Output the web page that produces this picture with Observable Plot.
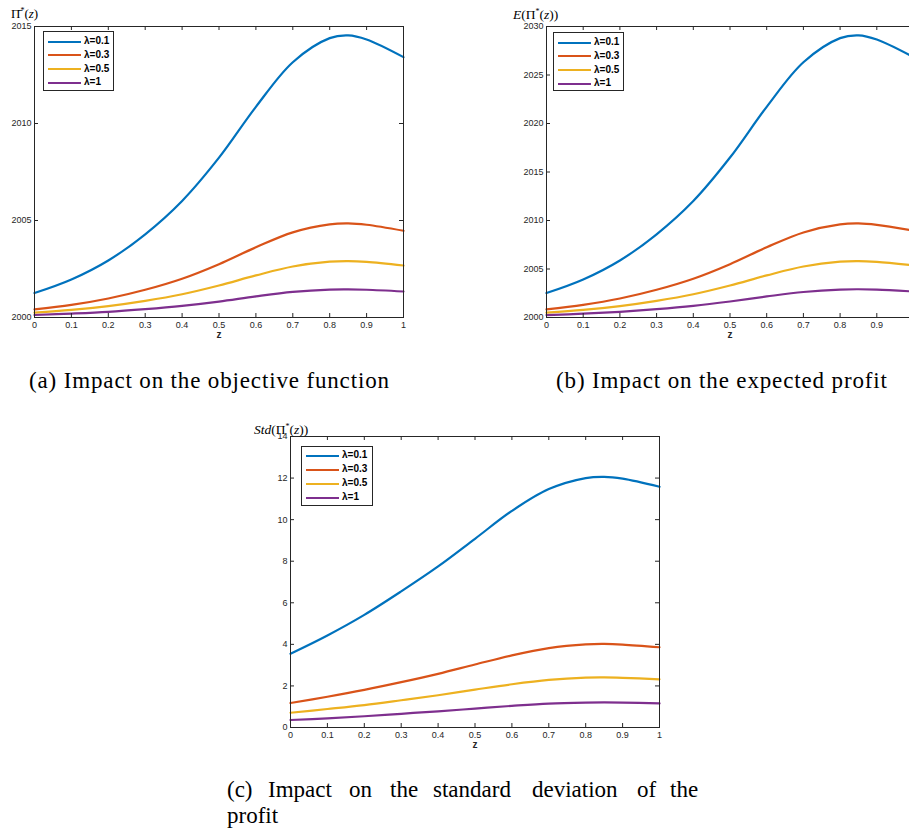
<!DOCTYPE html>
<html>
<head>
<meta charset="utf-8">
<script src="https://cdn.jsdelivr.net/npm/d3@7"></script>
<script src="https://cdn.jsdelivr.net/npm/@observablehq/plot@0.6"></script>
<style>
html, body { margin: 0; padding: 0; background: #fff; }
#page { position: relative; width: 909px; height: 831px; overflow: hidden; background: #fff; }
.panel { position: absolute; }
.panel svg { max-width: none !important; display: block; }
.legend { position: absolute; border: 1px solid #262626; background: #fff; box-sizing: border-box;
  font: bold 10px "Liberation Sans", Arial, sans-serif; color: #000; }
.legend .ln { position: absolute; height: 2px; }
.legend .tx { position: absolute; line-height: 12px; white-space: nowrap; }
#overlay { position: absolute; left: 0; top: 0; pointer-events: none; }
</style>
</head>
<body>
<div id="page"></div>
<script>
// ---- data ----
const zValues = [0, 0.1, 0.2, 0.3, 0.4, 0.5, 0.6, 0.7, 0.8, 0.85, 0.9, 1];
const xTickValues = [0, 0.1, 0.2, 0.3, 0.4, 0.5, 0.6, 0.7, 0.8, 0.9, 1];
const lambdaLabels = ["λ=0.1", "λ=0.3", "λ=0.5", "λ=1"];
const lineColors = ["#0072BD", "#D95319", "#EDB120", "#7E2F8E"];

// (a) objective function
const objTicks = [2000, 2005, 2010, 2015];
const objL01 = [2001.26, 2001.96, 2002.94, 2004.29, 2006.01, 2008.24, 2010.86, 2013.16, 2014.40, 2014.54, 2014.33, 2013.42];
const objL03 = [2000.42, 2000.65, 2000.98, 2001.43, 2002.00, 2002.75, 2003.62, 2004.39, 2004.80, 2004.85, 2004.78, 2004.47];
const objL05 = [2000.25, 2000.39, 2000.59, 2000.86, 2001.20, 2001.65, 2002.17, 2002.63, 2002.88, 2002.91, 2002.87, 2002.68];
const objL1  = [2000.13, 2000.20, 2000.29, 2000.43, 2000.60, 2000.82, 2001.09, 2001.32, 2001.44, 2001.45, 2001.43, 2001.34];

// (b) expected profit
const expTicks = [2000, 2005, 2010, 2015, 2020, 2025, 2030];
const expL01 = [2002.52, 2003.92, 2005.88, 2008.58, 2012.01, 2016.49, 2021.72, 2026.31, 2028.80, 2029.09, 2028.66, 2026.84];
const expL03 = [2000.84, 2001.31, 2001.96, 2002.86, 2004.00, 2005.50, 2007.24, 2008.77, 2009.60, 2009.70, 2009.55, 2008.95];
const expL05 = [2000.50, 2000.78, 2001.18, 2001.72, 2002.40, 2003.30, 2004.34, 2005.26, 2005.76, 2005.82, 2005.73, 2005.37];
const expL1  = [2000.25, 2000.39, 2000.59, 2000.86, 2001.20, 2001.65, 2002.17, 2002.63, 2002.88, 2002.91, 2002.87, 2002.68];

// (c) standard deviation
const stdTicks = [0, 2, 4, 6, 8, 10, 12, 14];
const stdL01 = [3.55, 4.43, 5.42, 6.55, 7.75, 9.08, 10.42, 11.47, 12.00, 12.06, 11.97, 11.58];
const stdL03 = [1.18, 1.48, 1.81, 2.18, 2.58, 3.03, 3.47, 3.82, 4.00, 4.02, 3.99, 3.86];
const stdL05 = [0.71, 0.89, 1.08, 1.31, 1.55, 1.82, 2.08, 2.29, 2.40, 2.41, 2.39, 2.32];
const stdL1  = [0.36, 0.44, 0.54, 0.66, 0.78, 0.91, 1.04, 1.15, 1.20, 1.21, 1.20, 1.16];

// ---- drawing ----
const page = document.getElementById("page");
const axisColor = "#262626";

function makePanel({left, top, width, height, mL, mR, mT, mB, yDomain, yTicks, series}) {
  const data = series.flatMap((vals, i) => vals.map((v, j) => ({z: zValues[j], v, s: lambdaLabels[i]})));
  const innerH = height - mT - mB;
  const innerW = width - mL - mR;
  const tickLen = 4;
  const svg = Plot.plot({
    width, height,
    marginLeft: mL, marginRight: mR, marginTop: mT, marginBottom: mB,
    style: {fontFamily: "'Liberation Sans', Arial, sans-serif", fontSize: "9px", color: axisColor, background: "transparent", overflow: "visible", maxWidth: "none"},
    x: {domain: [0, 1]},
    y: {domain: yDomain},
    color: {domain: lambdaLabels, range: lineColors},
    marks: [
      Plot.line(data, {x: "z", y: "v", stroke: "s", strokeWidth: 2.2, curve: "catmull-rom"}),
      Plot.frame({stroke: axisColor, strokeWidth: 1}),
      Plot.tickX(xTickValues, {x: d => d, insetTop: innerH - tickLen, stroke: axisColor}),
      Plot.tickX(xTickValues, {x: d => d, insetBottom: innerH - tickLen, stroke: axisColor}),
      Plot.tickY(yTicks, {y: d => d, insetRight: innerW - tickLen, stroke: axisColor}),
      Plot.tickY(yTicks, {y: d => d, insetLeft: innerW - tickLen, stroke: axisColor}),
      Plot.axisX(xTickValues, {tickSize: 0, tickPadding: 4, tickFormat: d => String(d), label: null}),
      Plot.axisY(yTicks, {tickSize: 0, tickPadding: 3, tickFormat: d => String(d), label: null}),
      Plot.text(["z"], {frameAnchor: "bottom", dy: 20, text: d => d, fontWeight: "bold", fontSize: 10, fill: axisColor})
    ]
  });
  const wrap = document.createElement("div");
  wrap.className = "panel";
  wrap.style.left = left + "px";
  wrap.style.top = top + "px";
  wrap.style.width = width + "px";
  wrap.style.height = height + "px";
  wrap.appendChild(svg);
  page.appendChild(wrap);
}

function makeLegend(left, top, w, h, rows) {
  const box = document.createElement("div");
  box.className = "legend";
  box.style.left = left + "px";
  box.style.top = top + "px";
  box.style.width = w + "px";
  box.style.height = h + "px";
  lambdaLabels.forEach((lab, i) => {
    const ln = document.createElement("div");
    ln.className = "ln";
    ln.style.left = "3.5px";
    ln.style.width = "33px";
    ln.style.top = (rows[i] - 1) + "px";
    ln.style.background = lineColors[i];
    box.appendChild(ln);
    const tx = document.createElement("div");
    tx.className = "tx";
    tx.style.left = "40px";
    tx.style.top = (rows[i] - 6.5) + "px";
    tx.textContent = lab;
    box.appendChild(tx);
  });
  page.appendChild(box);
}

makePanel({left: 0, top: 0, width: 420, height: 350, mL: 34, mR: 17, mT: 26, mB: 33,
  yDomain: [2000, 2015], yTicks: objTicks, series: [objL01, objL03, objL05, objL1]});
makePanel({left: 460, top: 0, width: 460, height: 350, mL: 86, mR: 7, mT: 26, mB: 33,
  yDomain: [2000, 2030], yTicks: expTicks, series: [expL01, expL03, expL05, expL1]});
makePanel({left: 240, top: 400, width: 440, height: 360, mL: 50, mR: 21, mT: 36, mB: 33,
  yDomain: [0, 14], yTicks: stdTicks, series: [stdL01, stdL03, stdL05, stdL1]});

const legendRows = [9.5, 23.2, 37.2, 50.8];
makeLegend(43, 31, 71, 60, legendRows);
makeLegend(553, 32, 71, 59, legendRows);
makeLegend(301, 446, 72, 60, [8.5, 22.8, 36.8, 50.6]);

// ---- labels & captions ----
const ns = "http://www.w3.org/2000/svg";
const overlay = document.createElementNS(ns, "svg");
overlay.setAttribute("id", "overlay");
overlay.setAttribute("width", 909);
overlay.setAttribute("height", 831);
overlay.innerHTML = `
<g font-family="'Liberation Serif', 'DejaVu Serif', serif" fill="#000">
  <text x="11" y="18" font-size="13">Π̄<tspan dy="-5" font-size="8">*</tspan><tspan dy="5">(</tspan><tspan font-style="italic">z</tspan>)</text>
  <text x="513" y="19" font-size="13.5"><tspan font-style="italic">E</tspan>(Π<tspan dy="-5" font-size="8">*</tspan><tspan dy="5">(</tspan><tspan font-style="italic">z</tspan>))</text>
  <text x="254" y="434" font-size="13.5"><tspan font-style="italic">Std</tspan>(Π<tspan dy="-5" font-size="8">*</tspan><tspan dy="5">(</tspan><tspan font-style="italic">z</tspan>))</text>
  <text x="29" y="388" font-size="23" textLength="360" lengthAdjust="spacing">(a) Impact on the objective function</text>
  <text x="556" y="388" font-size="23" textLength="331" lengthAdjust="spacing">(b) Impact on the expected profit</text>
  <text y="797" font-size="23"><tspan x="227">(c)</tspan><tspan x="268">Impact</tspan><tspan x="349">on</tspan><tspan x="390">the</tspan><tspan x="433">standard</tspan><tspan x="532">deviation</tspan><tspan x="637">of</tspan><tspan x="670">the</tspan></text>
  <text x="227" y="823" font-size="23">profit</text>
</g>`;
page.appendChild(overlay);
</script>
</body>
</html>
